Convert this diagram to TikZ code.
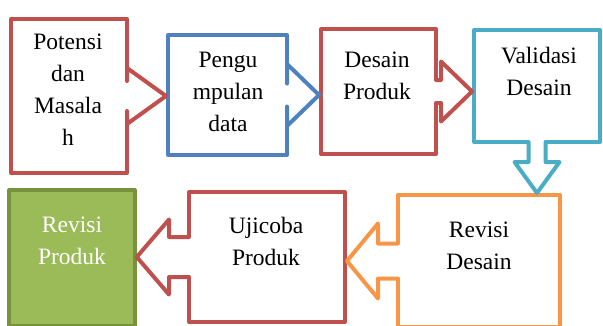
\documentclass[tikz,border=0pt]{standalone}
\usepackage{fontspec}
\setmainfont{Liberation Serif}
\usetikzlibrary{calc}
\definecolor{tRed}{HTML}{C0504D}
\definecolor{tBlue}{HTML}{4F81BD}
\definecolor{tAqua}{HTML}{4BACC6}
\definecolor{tOrange}{HTML}{F79646}
\definecolor{tGreen}{HTML}{9BBB59}
\definecolor{tGreenDark}{HTML}{76923C}

\tikzset{
  stagebox/.style={draw=#1, fill=white, line width=4pt, line join=round},
  stagetext/.style={anchor=north, inner sep=0pt, align=center,
    font=\fontsize{23.5}{32}\selectfont},
  callline/.style={line width=4pt, line join=round, line cap=round},
}

\begin{document}
\begin{tikzpicture}[x=1pt, y=-1pt]
  \useasboundingbox (0,0) rectangle (603,325);
  \clip (0,0) rectangle (603,325);

  % \arrowR{from}{to}{colour}{shaft}{half notch}{half head}
  \newcommand{\arrowR}[6]{%
    \fill[white] let \p1=(#1.east), \p2=(#2.west) in
      (\x1-6pt,\y1+#5) -- (\x1-2pt+#4,\y1+#5) -- (\x1-2pt+#4,\y1+#6) -- (\x2,\y1)
      -- (\x1-2pt+#4,\y1-#6) -- (\x1-2pt+#4,\y1-#5) -- (\x1-6pt,\y1-#5) -- cycle;
    \draw[#3, callline] let \p1=(#1.east), \p2=(#2.west) in
      (\x1-2pt,\y1+#5) -- (\x1-2pt+#4,\y1+#5) -- (\x1-2pt+#4,\y1+#6) -- (\x2,\y1)
      -- (\x1-2pt+#4,\y1-#6) -- (\x1-2pt+#4,\y1-#5) -- (\x1-2pt,\y1-#5);
  }
  % same, pointing left
  \newcommand{\arrowL}[6]{%
    \fill[white] let \p1=(#1.west), \p2=(#2.east) in
      (\x1+6pt,\y1+#5) -- (\x1+2pt-#4,\y1+#5) -- (\x1+2pt-#4,\y1+#6) -- (\x2,\y1)
      -- (\x1+2pt-#4,\y1-#6) -- (\x1+2pt-#4,\y1-#5) -- (\x1+6pt,\y1-#5) -- cycle;
    \draw[#3, callline] let \p1=(#1.west), \p2=(#2.east) in
      (\x1+2pt,\y1+#5) -- (\x1+2pt-#4,\y1+#5) -- (\x1+2pt-#4,\y1+#6) -- (\x2,\y1)
      -- (\x1+2pt-#4,\y1-#6) -- (\x1+2pt-#4,\y1-#5) -- (\x1+2pt,\y1-#5);
  }
  % same, pointing down
  \newcommand{\arrowD}[6]{%
    \fill[white] let \p1=(#1.south), \p2=(#2.north) in
      (\x1+#5,\y1+6pt) -- (\x1+#5,\y1+2pt-#4) -- (\x1+#6,\y1+2pt-#4) -- (\x1,\y2)
      -- (\x1-#6,\y1+2pt-#4) -- (\x1-#5,\y1+2pt-#4) -- (\x1-#5,\y1+6pt) -- cycle;
    \draw[#3, callline] let \p1=(#1.south), \p2=(#2.north) in
      (\x1+#5,\y1+2pt) -- (\x1+#5,\y1+2pt-#4) -- (\x1+#6,\y1+2pt-#4) -- (\x1,\y2)
      -- (\x1-#6,\y1+2pt-#4) -- (\x1-#5,\y1+2pt-#4) -- (\x1-#5,\y1+2pt);
  }

  % ---------- boxes ----------
  \node[stagebox=tRed, minimum width=116pt, minimum height=154pt] (potensi) at (69,96) {};
  \node[stagebox=tBlue, minimum width=119pt, minimum height=120pt] (pengumpulan) at (227.5,95) {};
  \node[stagebox=tRed, minimum width=115pt, minimum height=125pt] (desain) at (378.5,91.5) {};
  \node[stagebox=tAqua, minimum width=126pt, minimum height=112pt] (validasi) at (537,86) {};
  \node[stagebox=tOrange, minimum width=162pt, minimum height=132pt] (revdesain) at (479,261) {};
  \node[stagebox=tRed, minimum width=156pt, minimum height=130pt] (ujicoba) at (267,257) {};
  \node[stagebox=tGreenDark, fill=tGreen, minimum width=125.5pt, minimum height=135.5pt] (revproduk) at (72,258) {};

  % ---------- arrows ----------
  \arrowR{potensi}{pengumpulan}{tRed}{0pt}{15pt}{28pt}
  \arrowR{pengumpulan}{desain}{tBlue}{0pt}{11.5pt}{31pt}
  \arrowR{desain}{validasi}{tRed}{5pt}{11.5pt}{30pt}
  \arrowD{validasi}{revdesain}{tAqua}{20pt}{8.5pt}{22.5pt}
  \arrowL{revdesain}{ujicoba}{tOrange}{20pt}{17.5pt}{37.5pt}
  \arrowL{ujicoba}{revproduk}{tRed}{20pt}{20pt}{37.5pt}

  % ---------- labels ----------
  \node[stagetext] (t1) at (68,34) {Potensi\\dan\\Masala\\h};
  \node[stagetext] (t2) at (228,52) {Pengu\\mpulan\\data};
  \node[stagetext] (t3) at (377,52) {Desain\\Produk};
  \node[stagetext] (t4) at (539,47) {Validasi\\Desain};
  \node[stagetext] (t5) at (479,222) {Revisi\\Desain};
  \node[stagetext] (t6) at (266,217) {Ujicoba\\Produk};
  \node[stagetext, text=white] (t7) at (72,217) {Revisi\\Produk};
\end{tikzpicture}
\end{document}
